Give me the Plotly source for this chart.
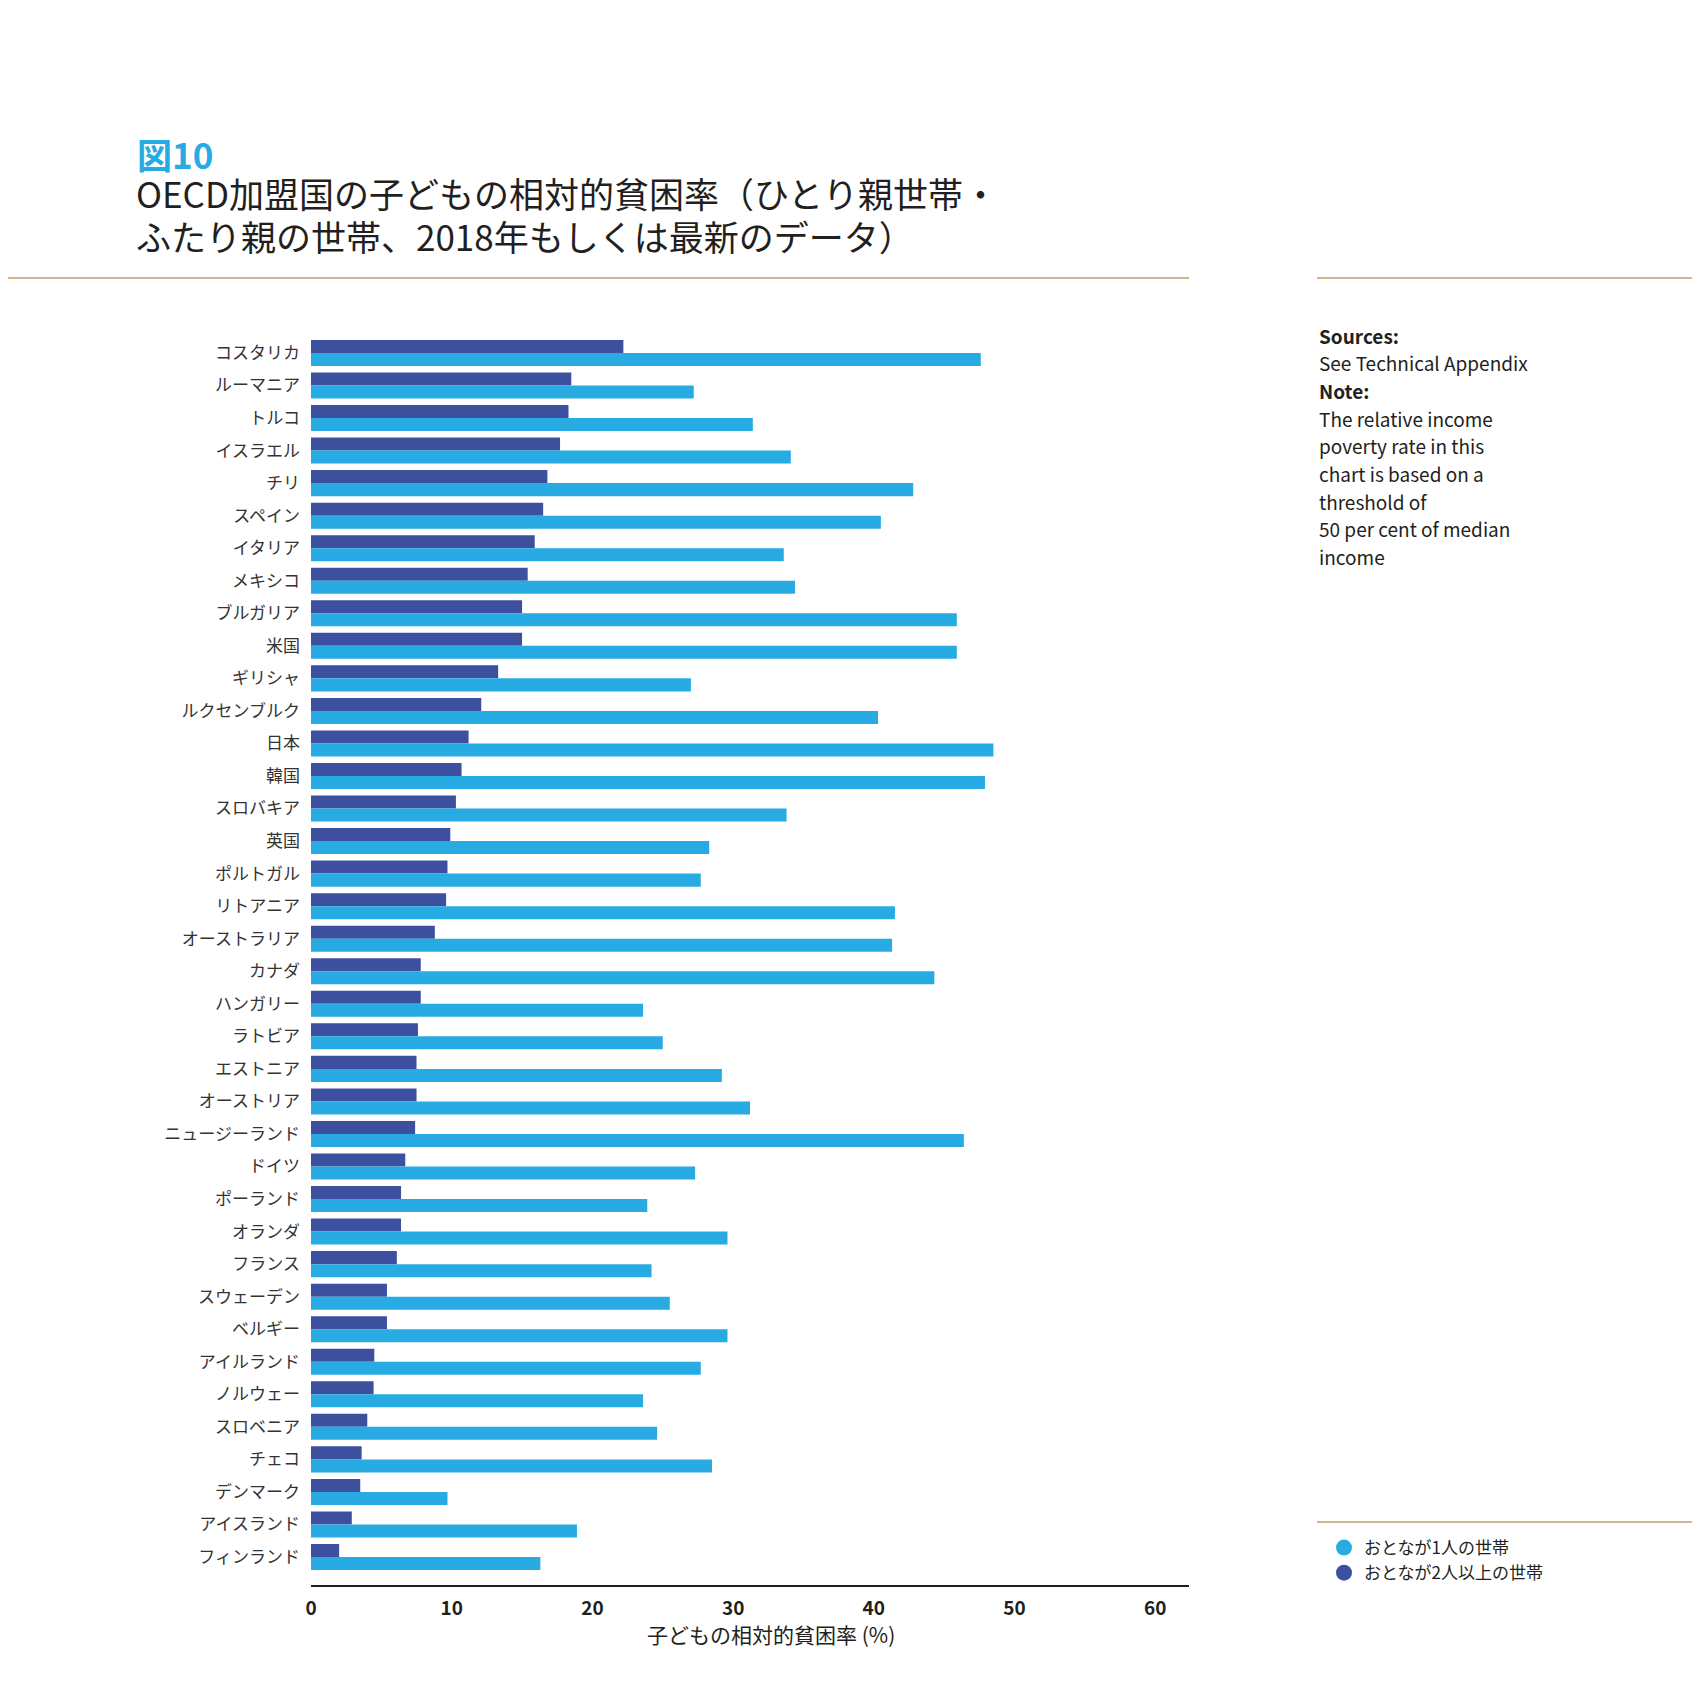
import plotly.graph_objects as go

countries = [
    "コスタリカ", "ルーマニア", "トルコ", "イスラエル", "チリ", "スペイン", "イタリア",
    "メキシコ", "ブルガリア", "米国", "ギリシャ", "ルクセンブルク", "日本", "韓国",
    "スロバキア", "英国", "ポルトガル", "リトアニア", "オーストラリア", "カナダ",
    "ハンガリー", "ラトビア", "エストニア", "オーストリア", "ニュージーランド", "ドイツ",
    "ポーランド", "オランダ", "フランス", "スウェーデン", "ベルギー", "アイルランド",
    "ノルウェー", "スロベニア", "チェコ", "デンマーク", "アイスランド", "フィンランド",
]

# おとなが1人の世帯 (single adult households)
one_adult = [
    47.6, 27.2, 31.4, 34.1, 42.8, 40.5, 33.6, 34.4, 45.9, 45.9, 27.0, 40.3, 48.5,
    47.9, 33.8, 28.3, 27.7, 41.5, 41.3, 44.3, 23.6, 25.0, 29.2, 31.2, 46.4, 27.3,
    23.9, 29.6, 24.2, 25.5, 29.6, 27.7, 23.6, 24.6, 28.5, 9.7, 18.9, 16.3,
]

# おとなが2人以上の世帯 (two or more adults)
two_adults = [
    22.2, 18.5, 18.3, 17.7, 16.8, 16.5, 15.9, 15.4, 15.0, 15.0, 13.3, 12.1, 11.2,
    10.7, 10.3, 9.9, 9.7, 9.6, 8.8, 7.8, 7.8, 7.6, 7.5, 7.5, 7.4, 6.7,
    6.4, 6.4, 6.1, 5.4, 5.4, 4.5, 4.45, 4.0, 3.6, 3.5, 2.9, 2.0,
]

x_ticks = [0, 10, 20, 30, 40, 50, 60]

note_lines = [
    ("Sources:", True),
    ("See Technical Appendix", False),
    ("Note:", True),
    ("The relative income", False),
    ("poverty rate in this", False),
    ("chart is based on a", False),
    ("threshold of", False),
    ("50 per cent of median", False),
    ("income", False),
]

LIGHT = "#27abe2"
DARK = "#3d509f"
FONT = "Noto Sans CJK JP"

W, H = 1700, 1702
L, R, T, B = 303, 519, 329, 125
PW, PH = W - L - R, H - T - B
OFF = 8  # page body margin: positions below are measured on the page


def px(x):
    return (x - OFF - L) / PW


def py(y):
    return (H - B - (y - OFF)) / PH


fig = go.Figure()
fig.add_trace(go.Bar(y=countries, x=two_adults, orientation="h",
                     marker=dict(color=DARK, line=dict(width=0)),
                     name="おとなが2人以上の世帯", showlegend=False))
fig.add_trace(go.Bar(y=countries, x=one_adult, orientation="h",
                     marker=dict(color=LIGHT, line=dict(width=0)),
                     name="おとなが1人の世帯", showlegend=False))

# legend entries with round markers
for nm, col in [("おとなが1人の世帯", LIGHT), ("おとなが2人以上の世帯", DARK)]:
    fig.add_trace(go.Scatter(x=[None], y=[None], mode="markers", name=nm,
                             marker=dict(color=col, size=17, symbol="circle")))

fig.update_layout(
    width=W, height=H,
    margin=dict(l=L, r=R, t=T, b=B),
    paper_bgcolor="white", plot_bgcolor="white",
    font=dict(family=FONT, color="#231f20"),
    barmode="group", bargap=0.2, bargroupgap=0,
    showlegend=True,
    legend=dict(x=px(1324), y=py(1530), xanchor="left", yanchor="top",
                font=dict(size=17, color="#231f20"), itemwidth=30,
                bgcolor="rgba(0,0,0,0)", tracegroupgap=0),
)

fig.update_xaxes(range=[0, 62.4], tickvals=x_ticks, showgrid=False, zeroline=False,
                 showline=True, linecolor="#231f20", linewidth=2, ticks="",
                 tickfont=dict(size=19, color="#231f20", weight="bold"),
                 ticklabelstandoff=5)
fig.update_yaxes(type="category", range=[37.86, -0.49], showgrid=False, zeroline=False,
                 showline=False, ticks="", tickfont=dict(size=17, color="#333333"),
                 ticklabelstandoff=10)

ann = []
ann.append(dict(x=px(135), y=py(154), text="<b>図10</b>", xanchor="left", yanchor="middle",
                font=dict(size=35, color=LIGHT)))
ann.append(dict(x=px(134), y=py(192), text="OECD加盟国の子どもの相対的貧困率（ひとり親世帯・",
                xanchor="left", yanchor="middle", font=dict(size=35, color="#231f20")))
ann.append(dict(x=px(134), y=py(236), text="ふたり親の世帯、2018年もしくは最新のデータ）",
                xanchor="left", yanchor="middle", font=dict(size=35, color="#231f20")))
ann.append(dict(x=px(771), y=py(1634), text="子どもの相対的貧困率 (%)", xanchor="center",
                yanchor="middle", font=dict(size=21, color="#231f20")))
for i, (line, bold) in enumerate(note_lines):
    ann.append(dict(x=px(1317), y=py(335 + i * 27.7), text=f"<b>{line}</b>" if bold else line,
                    xanchor="left", yanchor="middle", font=dict(size=19, color="#231f20")))
for a in ann:
    a.update(xref="paper", yref="paper", showarrow=False)
fig.update_layout(annotations=ann)

rule = "#c49a6c"
fig.update_layout(shapes=[
    dict(type="line", xref="paper", yref="paper", x0=px(0), x1=px(1189), y0=py(278), y1=py(278),
         line=dict(color=rule, width=1.5)),
    dict(type="line", xref="paper", yref="paper", x0=px(1317), x1=px(1710), y0=py(278), y1=py(278),
         line=dict(color=rule, width=1.5)),
    dict(type="line", xref="paper", yref="paper", x0=px(1317), x1=px(1710), y0=py(1522), y1=py(1522),
         line=dict(color=rule, width=1.5)),
])

fig.write_html("out.html")
